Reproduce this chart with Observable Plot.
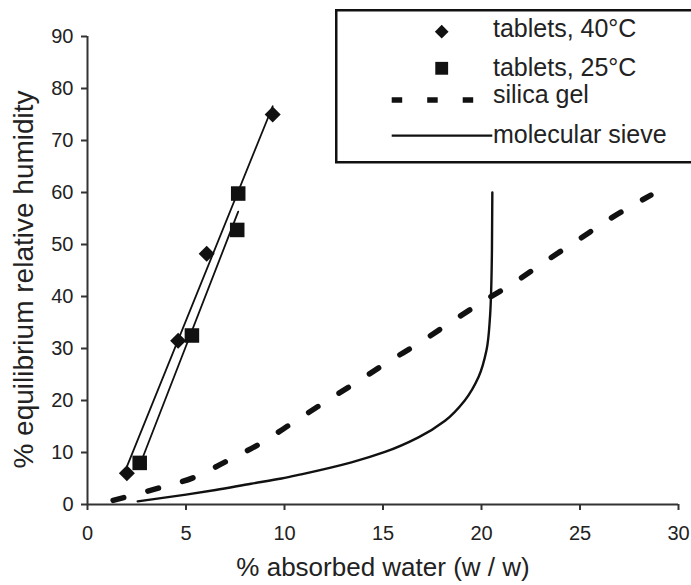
<!DOCTYPE html>
<html><head><meta charset="utf-8">
<script src="https://cdn.jsdelivr.net/npm/d3@7"></script>
<script src="https://cdn.jsdelivr.net/npm/@observablehq/plot@0.6"></script>
<style>
body{margin:0;background:#fff;}
#wrap{position:relative;width:691px;height:585px;font-family:"Liberation Sans",Arial,sans-serif;}
#legend{position:absolute;left:335px;top:9px;}
</style></head><body><div id="wrap"></div>
<script>
// Data
const tablets40X = [2.0, 4.6, 6.05, 9.4];
const tablets40Y = [6.0, 31.5, 48.2, 75.0];
const tablets25X = [2.65, 5.3, 7.65, 7.6];
const tablets25Y = [8.0, 32.5, 59.8, 52.8];
const silicaX = [1.3, 3.55, 5.4, 7.15, 8.8, 10.45, 12.05, 13.65, 15.25, 16.9, 18.5, 20.1, 21.75, 23.3, 24.95, 26.55, 28.6];
const silicaY = [0.8, 3.1, 5.2, 8.5, 11.8, 15.8, 19.7, 23.5, 27.4, 31.2, 35.2, 39.1, 42.9, 46.9, 51.0, 55.0, 59.5];
const sieveX = [2.55, 5.0, 6.5, 8.3, 9.85, 10.85, 13.4, 15.1, 16.8, 18.15, 19.15, 19.85, 20.25, 20.43, 20.5, 20.53, 20.55];
const sieveY = [0.6, 1.9, 2.8, 4.0, 5.0, 5.8, 8.1, 10.1, 12.9, 16.1, 20.0, 24.5, 29.6, 36.0, 42.5, 48.8, 60.0];
const xTicks = [0, 5, 10, 15, 20, 25, 30];
const yTicks = [0, 10, 20, 30, 40, 50, 60, 70, 80, 90];
const seriesLabels = ["tablets, 40°C", "tablets, 25°C", "silica gel", "molecular sieve"];
const xLabel = "% absorbed water (w / w)";
const yLabel = "% equilibrium relative humidity";

const rows = (xs, ys) => xs.map((x, i) => ({x, y: ys[i]}));
const t40 = rows(tablets40X, tablets40Y);
const t25 = rows(tablets25X, tablets25Y);
const silica = rows(silicaX, silicaY);
const sieve = rows(sieveX, sieveY);

const ink = "#111";
const chart = Plot.plot({
  width: 691, height: 585,
  marginLeft: 87, marginRight: 13, marginTop: 36, marginBottom: 81,
  style: {fontFamily: "'Liberation Sans', Arial, sans-serif", fontSize: "20px", color: "#222", background: "white"},
  x: {domain: [0, 30]},
  y: {domain: [0, 90]},
  marks: [
    Plot.axisX({ticks: xTicks, tickSize: 6, tickPadding: 15, strokeWidth: 2, stroke: "#333",
      label: xLabel, labelAnchor: "center", labelArrow: "none", labelOffset: 71}),
    Plot.axisY({ticks: yTicks, tickSize: 6, tickPadding: 8, strokeWidth: 2, stroke: "#333",
      label: yLabel, labelAnchor: "center", labelArrow: "none", labelOffset: 74}),
    Plot.ruleX([0], {stroke: "#333", strokeWidth: 2}),
    Plot.ruleY([0], {stroke: "#333", strokeWidth: 2}),
    Plot.line(silica, {x: "x", y: "y", stroke: ink, strokeWidth: 5.5, strokeDasharray: "11,25", curve: "monotone-x"}),
    Plot.line(sieve, {x: "x", y: "y", stroke: ink, strokeWidth: 2.4, curve: "monotone-y"}),
    Plot.linearRegressionY(t40, {x: "x", y: "y", stroke: ink, strokeWidth: 1.8, ci: 0}),
    Plot.linearRegressionY(t25, {x: "x", y: "y", stroke: ink, strokeWidth: 1.8, ci: 0}),
    Plot.dot(t40, {x: "x", y: "y", symbol: "diamond2", r: 7.2, fill: ink, stroke: "none"}),
    Plot.dot(t25, {x: "x", y: "y", symbol: "square", r: 8.2, fill: ink, stroke: "none"})
  ]
});

const svg = d3.select(chart);
svg.select('g[aria-label="x-axis label"]').attr("font-size", 26);
svg.select('g[aria-label="y-axis label"]').attr("font-size", 28)
  .selectAll("text").attr("transform", function() { return "translate(0,9) " + (this.getAttribute("transform") || ""); });

document.getElementById("wrap").appendChild(chart);

// Legend box overlaid at the top right
const lg = d3.select("#wrap").append("svg").attr("id", "legend")
  .attr("width", 356).attr("height", 156)
  .style("font-family", "'Liberation Sans', Arial, sans-serif");
lg.append("rect").attr("x", 1.25).attr("y", 1.25).attr("width", 420).attr("height", 152)
  .attr("fill", "white").attr("stroke", ink).attr("stroke-width", 2.5);
const baselines = [28, 67, 94, 134];
lg.selectAll("text.lab").data(seriesLabels).join("text").attr("class", "lab")
  .attr("x", 158).attr("y", (d, i) => baselines[i]).attr("font-size", 25).attr("fill", "#222").text(d => d);
lg.append("path").attr("transform", "translate(106.7,22.7)").attr("d", d3.symbol(d3.symbolDiamond2, 120)()).attr("fill", ink);
lg.append("path").attr("transform", "translate(106.7,59.3)").attr("d", d3.symbol(d3.symbolSquare, 165)()).attr("fill", ink);
lg.append("line").attr("x1", 56.7).attr("x2", 140).attr("y1", 91).attr("y2", 91)
  .attr("stroke", ink).attr("stroke-width", 5.5).attr("stroke-dasharray", "10.5,25");
lg.append("line").attr("x1", 56.7).attr("x2", 157.3).attr("y1", 126.7).attr("y2", 126.7)
  .attr("stroke", ink).attr("stroke-width", 2.2);
</script></body></html>
